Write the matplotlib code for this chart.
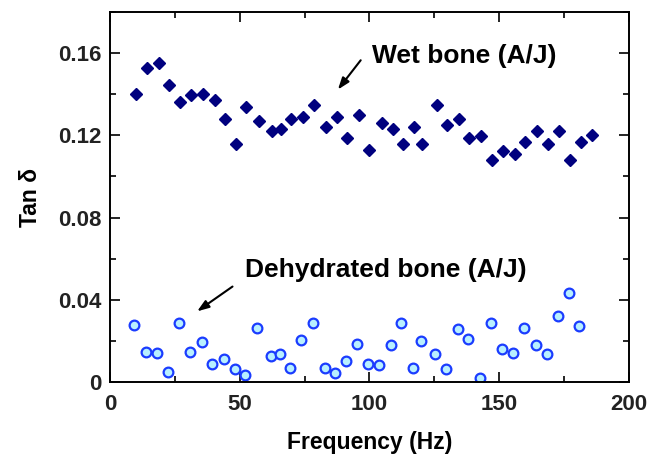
import numpy as np
import matplotlib.pyplot as plt
from matplotlib.ticker import MultipleLocator, FuncFormatter

plt.rcParams['font.family'] = ['Liberation Sans', 'DejaVu Sans']
plt.rcParams['font.weight'] = 'bold'

# Wet bone (A/J)
wet_freq = [9.9, 14.3, 18.8, 22.7, 27.0, 31.2, 35.9, 40.3, 44.2, 48.5, 52.6, 57.3,
            62.6, 66.0, 69.7, 74.3, 78.6, 83.1, 87.4, 91.3, 95.8, 100.0, 104.9, 109.0,
            112.8, 117.2, 120.3, 125.9, 130.1, 134.6, 138.5, 143.0, 147.4, 151.5, 156.2,
            160.0, 164.6, 168.8, 173.1, 177.3, 181.4, 185.9]
wet_tan = [0.140, 0.153, 0.155, 0.1445, 0.136, 0.1396, 0.140, 0.137, 0.128, 0.116,
           0.134, 0.127, 0.122, 0.123, 0.128, 0.129, 0.135, 0.124, 0.129, 0.1185,
           0.130, 0.113, 0.126, 0.123, 0.116, 0.124, 0.116, 0.135, 0.125, 0.128,
           0.1185, 0.1196, 0.108, 0.1125, 0.111, 0.117, 0.122, 0.116, 0.122, 0.108,
           0.117, 0.120]

# Dehydrated bone (A/J)
dry_freq = [9.3, 13.8, 18.3, 22.4, 26.5, 30.8, 35.3, 39.5, 43.8, 48.1, 52.2, 56.7,
            62.2, 65.7, 69.5, 73.7, 78.2, 82.7, 86.9, 91.0, 95.1, 99.6, 103.8, 108.3,
            112.2, 116.7, 119.9, 125.4, 129.7, 134.2, 138.2, 142.7, 147.0, 151.3, 155.5,
            159.6, 164.1, 168.3, 172.7, 176.9, 181.0]
dry_tan = [0.0277, 0.0147, 0.014, 0.0047, 0.0288, 0.0147, 0.0193, 0.0086, 0.011, 0.0062,
           0.0034, 0.0261, 0.0128, 0.0136, 0.0067, 0.0204, 0.0288, 0.0067, 0.0045, 0.0102,
           0.0185, 0.0086, 0.0083, 0.018, 0.0285, 0.007, 0.0201, 0.0136, 0.0063, 0.0256,
           0.0209, 0.0018, 0.0285, 0.016, 0.014, 0.0261, 0.018, 0.0135, 0.0321, 0.0431,
           0.0272]

fig = plt.figure(figsize=(6.6, 4.59), dpi=100)
ax = fig.add_axes([0.1667, 0.1678, 0.786, 0.806])

ax.plot(wet_freq, wet_tan, linestyle='none', marker='D', markersize=6,
        color='#00007f', markeredgecolor='#00007f')
ax.plot(dry_freq, dry_tan, linestyle='none', marker='o', markersize=7,
        markerfacecolor='#b8f0ff', markeredgecolor='#1a3cff', markeredgewidth=1.6)

ax.set_xlim(0, 200)
ax.set_ylim(0, 0.18)
ax.xaxis.set_major_locator(MultipleLocator(50))
ax.xaxis.set_minor_locator(MultipleLocator(25))
ax.yaxis.set_major_locator(MultipleLocator(0.04))
ax.yaxis.set_minor_locator(MultipleLocator(0.02))
ax.yaxis.set_major_formatter(FuncFormatter(lambda v, p: '0' if abs(v) < 1e-9 else f'{v:.2f}'))

ax.tick_params(which='both', direction='in', top=True, right=True, width=1.2, labelsize=16)
ax.tick_params(which='major', length=7)
ax.tick_params(which='minor', length=4.5)
ax.tick_params(axis='x', pad=9)
ax.tick_params(axis='y', pad=6)
for s in ax.spines.values():
    s.set_linewidth(1.4)
for lab in ax.get_xticklabels() + ax.get_yticklabels():
    lab.set_fontweight('bold')
    lab.set_color('#222222')

ax.set_xlabel('Frequency (Hz)', fontsize=16.5, fontweight='bold', labelpad=11)
ax.set_ylabel('Tan δ', fontsize=16.5, fontweight='bold', labelpad=12)

arrow = dict(arrowstyle='-|>,head_length=0.7,head_width=0.25', color='black', lw=1.5)
ax.annotate('', xy=(87.2, 0.1412), xytext=(97.3, 0.1576), arrowprops=arrow)
ax.text(101, 0.1585, 'Wet bone (A/J)', fontsize=19, fontweight='bold', va='center')
ax.annotate('', xy=(32.7, 0.0336), xytext=(48.1, 0.0472), arrowprops=arrow)
ax.text(52, 0.0545, 'Dehydrated bone (A/J)', fontsize=19, fontweight='bold', va='center')

fig.savefig('out.png', dpi=100)
